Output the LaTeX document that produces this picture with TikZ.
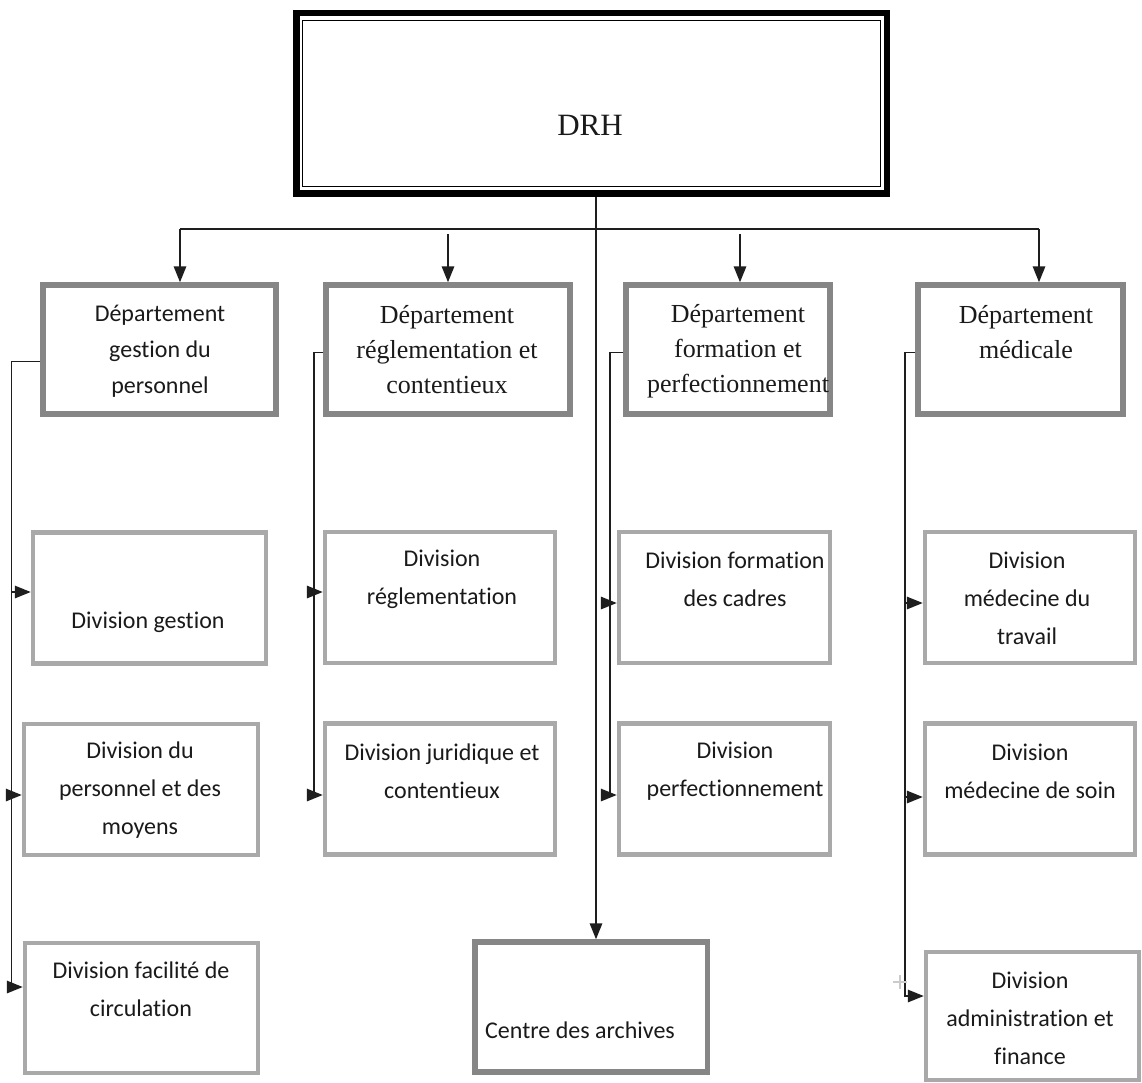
\documentclass[tikz,border=0pt]{standalone}
\usepackage{fontspec}
\setmainfont{Liberation Serif}
\newfontfamily\carl[Ligatures={NoCommon,NoContextual}]{Carlito}
\usetikzlibrary{arrows.meta}
\definecolor{deptgray}{HTML}{868686}
\definecolor{divgray}{HTML}{A9A9A9}
\definecolor{linec}{HTML}{1E1E1E}
\definecolor{txt}{HTML}{1A1A1A}
\begin{document}
\begin{tikzpicture}[x=1pt,y=-1pt,
  dim/.style 2 args={minimum width=#1,minimum height=#2},
  deptbox/.style={draw=deptgray,line width=5.5pt,inner sep=0pt},
  divbox/.style={draw=divgray,line width=4.5pt,inner sep=0pt},
  serif/.style={text=txt,align=center,inner sep=0pt,font=\fontsize{26}{35}\selectfont},
  sans/.style={text=txt,align=center,inner sep=0pt,font=\carl\fontsize{24}{38}\selectfont},
  sansd/.style={text=txt,align=center,inner sep=0pt,font=\carl\fontsize{24}{36}\selectfont},
  conn/.style={draw=linec,line width=1.6pt},
  arr/.style={conn,-{Triangle[length=16pt,width=12.5pt]}}]
\useasboundingbox (0,0) rectangle (1142,1082);
\fill[white] (0,0) rectangle (1142,1082);

% DRH
\node[draw=black,line width=6.5pt,inner sep=0pt,dim={590.5pt}{180.5pt}] (drh) at (591.5,103) {};
\node[draw=black,line width=1.5pt,inner sep=0pt,dim={578pt}{166pt}] (drhin) at (591.5,103.5) {};
\node[text=txt,inner sep=0pt,font=\fontsize{31}{36}\selectfont] (tdrh) at (590,125) {DRH};

% departments
\node[deptbox,dim={233pt}{129pt}] (d1) at (159.5,349.5) {};
\node[deptbox,dim={244pt}{129pt}] (d2) at (448,349.5) {};
\node[deptbox,dim={204pt}{129pt}] (d3) at (728,349.5) {};
\node[deptbox,dim={205pt}{129pt}] (d4) at (1020.5,349.5) {};
\node[sansd] (td1) at (160,351) {Département\\gestion du\\personnel};
\node[serif] (td2) at (447,350) {Département\\réglementation et\\contentieux};
\node[serif] (td3) at (738,351) {Département\\formation et\\perfectionnement};
\node[serif] (td4) at (1026,332) {Département\\médicale};

% divisions
\node[divbox,dim={233pt}{131pt}] (g1) at (149.5,597.8) {};
\node[divbox,dim={234pt}{131pt}] (g2) at (141,789.5) {};
\node[divbox,dim={233pt}{130pt}] (g3) at (141.5,1008) {};
\node[divbox,dim={230pt}{131pt}] (r1) at (440,597.5) {};
\node[divbox,dim={230pt}{131pt}] (r2) at (440,789) {};
\node[divbox,dim={211pt}{131pt}] (f1) at (724.5,597.5) {};
\node[divbox,dim={211pt}{131pt}] (f2) at (724.5,789) {};
\node[divbox,dim={210pt}{131pt}] (m1) at (1030,597.5) {};
\node[divbox,dim={210pt}{131pt}] (m2) at (1030,789) {};
\node[divbox,dim={213pt}{128pt}] (m3) at (1032.5,1016) {};
\node[deptbox,dim={232.5pt}{130pt}] (ca) at (591,1007) {};

\node[sans] (tg1) at (148,622) {Division gestion};
\node[sans] (tg2) at (140,790) {Division du\\personnel et des\\moyens};
\node[sans] (tg3) at (141,989) {Division facilité de\\circulation};
\node[sans] (tr1) at (442,579) {Division\\réglementation};
\node[sans] (tr2) at (442,771) {Division juridique et\\contentieux};
\node[sans] (tf1) at (735,579) {Division formation\\des cadres};
\node[sans] (tf2) at (735,771) {Division\\perfectionnement};
\node[sans] (tm1) at (1027,598) {Division\\médecine du\\travail};
\node[sans] (tm2) at (1030,771) {Division\\médecine de soin};
\node[sans] (tm3) at (1030,1018) {Division\\administration et\\finance};
\node[sans] (tca) at (580,1030) {Centre des archives};

% trunk and top bus
\coordinate (trunk) at (596,0);
\draw[arr] (drh.south -| trunk) -- (ca.north -| trunk);
\coordinate (hl) at (180,229);
\coordinate (hr) at (1039,229);
\coordinate (a2) at (448,234);
\coordinate (a3) at (740,234);
\draw[conn] (hl) -- (hr);
\draw[arr] (hl) -- (hl |- d1.north);
\draw[arr] (a2) -- (a2 |- d2.north);
\draw[arr] (a3) -- (a3 |- d3.north);
\draw[arr] (hr) -- (hr |- d4.north);

% column 1
\coordinate (c1) at (11.5,361.5);
\coordinate (y11) at (0,592);
\coordinate (y12) at (0,795);
\coordinate (y13) at (0,987);
\draw[arr] (d1.west |- c1) -- (c1) -- (c1 |- y13) -- (g3.west |- y13);
\draw[arr] (c1 |- y11) -- (g1.west |- y11);
\draw[arr] (c1 |- y12) -- (g2.west |- y12);

% column 2
\coordinate (c2) at (314,352.5);
\coordinate (y21) at (0,592);
\coordinate (y22) at (0,795);
\draw[arr] (d2.west |- c2) -- (c2) -- (c2 |- y22) -- (r2.west |- y22);
\draw[arr] (c2 |- y21) -- (r1.west |- y21);

% column 3
\coordinate (c3) at (610,352.5);
\coordinate (y31) at (0,603);
\coordinate (y32) at (0,795);
\draw[arr] (d3.west |- c3) -- (c3) -- (c3 |- y32) -- (f2.west |- y32);
\draw[arr] (c3 |- y31) -- (f1.west |- y31);

% column 4
\coordinate (c4) at (905,352.5);
\coordinate (y41) at (0,603);
\coordinate (y42) at (0,797);
\coordinate (y43) at (0,996);
\draw[arr] (d4.west |- c4) -- (c4) -- (c4 |- y43) -- (m3.west |- y43);
\draw[arr] (c4 |- y41) -- (m1.west |- y41);
\draw[arr] (c4 |- y42) -- (m2.west |- y42);

% stray light mark
\coordinate (pm) at (900,982);
\draw[draw=divgray!60,line width=1.5pt] ([xshift=-7pt]pm) -- ([xshift=7pt]pm) ([yshift=-7pt]pm) -- ([yshift=7pt]pm);
\end{tikzpicture}
\end{document}
